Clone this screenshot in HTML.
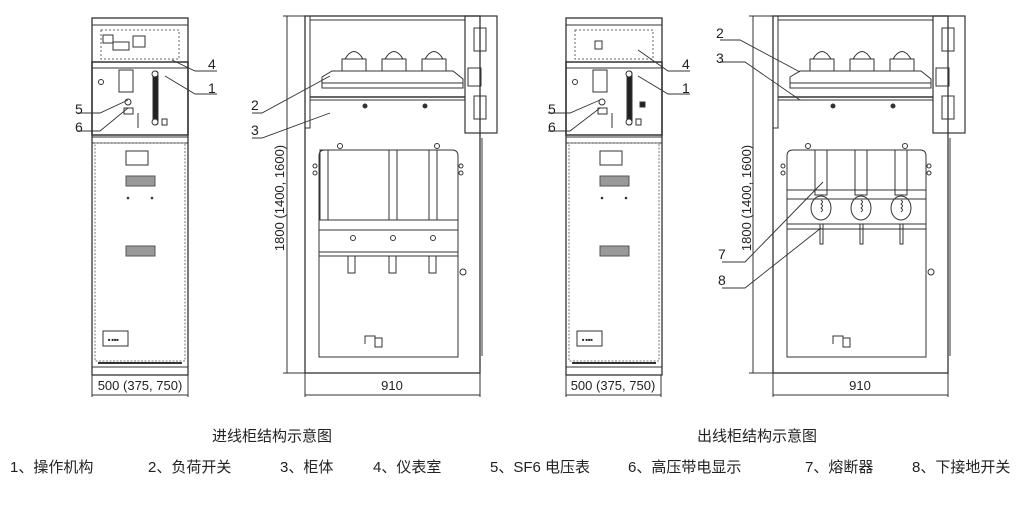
<!DOCTYPE html>
<html><head><meta charset="utf-8"><style>
html,body{margin:0;padding:0;background:#fff;width:1024px;height:510px;overflow:hidden}
svg{display:block}
text{font-family:"Liberation Sans","Noto Sans CJK SC",sans-serif;fill:#222}
</style></head><body>
<svg width="1024" height="510" viewBox="0 0 1024 510" xmlns="http://www.w3.org/2000/svg">
<defs>
<g id="front" fill="none" stroke="#333" stroke-width="1">
  <rect x="0" y="0" width="96" height="357" stroke-width="1.3"/>
  <line x1="0" y1="7" x2="96" y2="7"/>
  <rect x="9" y="12" width="78" height="29" stroke-dasharray="2,2" stroke="#666"/>
  <rect x="0" y="44" width="96" height="73" stroke-width="1.5"/>
  <line x1="0" y1="50" x2="96" y2="50"/>
  <rect x="27" y="52" width="14" height="22"/>
  <circle cx="9" cy="64" r="2.5"/>
  <rect x="61" y="53" width="5" height="54" rx="2.5" fill="#222"/>
  <circle cx="63" cy="56" r="3" fill="#fff"/>
  <circle cx="63" cy="104" r="3" fill="#fff"/>
  <circle cx="36" cy="84" r="3"/>
  <rect x="32" y="90" width="9" height="6"/>
  <line x1="46" y1="95" x2="46" y2="110"/>
  <rect x="70" y="101" width="5" height="6"/>
  <rect x="0" y="119" width="96" height="6"/>
  <rect x="3" y="125" width="90" height="218" stroke-dasharray="2,1.5" stroke="#777"/>
  <rect x="34" y="133" width="22" height="14"/>
  <rect x="34" y="158" width="29" height="10" fill="#999" stroke="#555"/>
  <rect x="34" y="228" width="29" height="10" fill="#999" stroke="#555"/>
  <circle cx="36" cy="180" r="0.8" fill="#333"/><circle cx="60" cy="180" r="0.8" fill="#333"/>
  <rect x="11" y="313" width="25" height="15"/>
  <text x="16" y="323" font-size="4" stroke="none">■ ■■■</text>
  <line x1="6" y1="345" x2="90" y2="345" stroke-width="2"/>
  <line x1="0" y1="349" x2="96" y2="349"/>
</g>
<g id="side" fill="none" stroke="#333" stroke-width="1">
  <rect x="0" y="0" width="175" height="357" stroke-width="1.3"/>
  <line x1="5" y1="4" x2="160" y2="4"/>
  <rect x="0" y="0" width="5" height="112"/>
  <line x1="5" y1="81" x2="160" y2="81" stroke-width="1.4"/>
  <line x1="5" y1="84" x2="160" y2="84"/>
  <rect x="160" y="0" width="32" height="117" stroke-width="1.2"/>
  <rect x="163" y="52" width="13" height="18"/>
  <rect x="169" y="12" width="12" height="23"/>
  <rect x="169" y="80" width="12" height="23"/>
  <path d="M17 61 L27 55 L148 55 L158 63 L158 72 L17 72 Z"/>
  <line x1="17" y1="67" x2="158" y2="67"/>
  <g>
    <rect x="37" y="43" width="24" height="12"/><path d="M40 43 Q49 28 58 43"/>
    <rect x="77" y="43" width="24" height="12"/><path d="M80 43 Q89 28 98 43"/>
    <rect x="117" y="43" width="24" height="12"/><path d="M120 43 Q129 28 138 43"/>
  </g>
  <circle cx="60" cy="90" r="2" fill="#333"/><circle cx="120" cy="90" r="2" fill="#333"/>
  <line x1="177" y1="122" x2="177" y2="340"/>
  <path d="M14 140 Q14 134 20 134 L147 134 Q153 134 153 140 L153 341 L14 341 Z"/>
  <circle cx="35" cy="130" r="2.5"/><circle cx="132" cy="130" r="2.5"/>
  <circle cx="10" cy="150" r="2"/><circle cx="10" cy="157" r="2"/>
  <circle cx="156" cy="150" r="2"/><circle cx="156" cy="157" r="2"/>
  <circle cx="158" cy="256" r="3"/>
  <path d="M60 328 L60 320 L70 320 L70 331 L77 331 L77 322 L70 322"/>
</g>
</defs>

<use href="#front" x="92" y="18"/>
<g fill="none" stroke="#333" stroke-width="1">
  <rect x="103" y="35" width="10" height="8"/>
  <rect x="113" y="42" width="16" height="8"/>
  <rect x="133" y="36" width="12" height="11"/>
  <line x1="92" y1="375" x2="92" y2="397"/><line x1="188" y1="375" x2="188" y2="397"/>
  <line x1="92" y1="395" x2="188" y2="395"/>
</g>
<use href="#side" x="305" y="16"/>
<g fill="none" stroke="#333" stroke-width="1">
  <rect x="320" y="150" width="8" height="70"/><rect x="389" y="150" width="8" height="70"/><rect x="429" y="150" width="8" height="70"/>
  <rect x="319" y="220" width="139" height="10"/><line x1="319" y1="252" x2="458" y2="252"/><line x1="319" y1="256" x2="458" y2="256"/>
  <circle cx="353" cy="238" r="2.5"/><circle cx="393" cy="238" r="2.5"/><circle cx="433" cy="238" r="2.5"/>
  <rect x="348" y="256" width="7" height="17"/><rect x="389" y="256" width="7" height="17"/><rect x="429" y="256" width="7" height="17"/>
  <line x1="287" y1="16" x2="287" y2="373"/><line x1="283" y1="16" x2="305" y2="16"/><line x1="283" y1="373" x2="305" y2="373"/>
  <line x1="305" y1="373" x2="305" y2="397"/><line x1="480" y1="373" x2="480" y2="397"/>
  <line x1="305" y1="395" x2="480" y2="395"/>
</g>
<g stroke="#333" stroke-width="0.9" fill="none">
  <polyline points="172,60 195,71 217,71"/>
  <polyline points="165,76 195,94 217,94"/>
  <polyline points="128,100 100,113 78,113"/>
  <polyline points="128,108 100,131 78,131"/>
  <polyline points="330,76 262,113 252,113"/>
  <polyline points="330,113 262,138 252,138"/>
</g>
<g font-size="14">
  <text x="208" y="69">4</text><text x="208" y="93">1</text>
  <text x="75" y="114">5</text><text x="75" y="132">6</text>
  <text x="251" y="110">2</text><text x="251" y="135">3</text>
</g>
<text x="140" y="390" font-size="13" text-anchor="middle">500 (375, 750)</text>
<text x="392" y="390" font-size="13" text-anchor="middle">910</text>
<text transform="translate(284,198) rotate(-90)" font-size="13" text-anchor="middle">1800 (1400, 1600)</text>

<use href="#front" x="566" y="18"/>
<g fill="none" stroke="#333" stroke-width="1">
  <rect x="595" y="41" width="7" height="8"/>
  <rect x="640" y="102" width="5" height="5" fill="#222"/>
  <line x1="566" y1="375" x2="566" y2="397"/><line x1="661" y1="375" x2="661" y2="397"/>
  <line x1="566" y1="395" x2="661" y2="395"/>
</g>
<use href="#side" x="773" y="16"/>
<g fill="none" stroke="#333" stroke-width="1">
  <rect x="815" y="150" width="12" height="45"/><rect x="855" y="150" width="12" height="45"/><rect x="895" y="150" width="12" height="45"/>
  <line x1="787" y1="190" x2="926" y2="190"/><line x1="787" y1="199" x2="926" y2="199"/>
  <ellipse cx="821" cy="208" rx="10" ry="12"/><ellipse cx="861" cy="208" rx="10" ry="12"/><ellipse cx="901" cy="208" rx="10" ry="12"/>
  <path d="M821 200 q3 2 0 4 q3 2 0 4 q3 2 0 4"/><path d="M861 200 q3 2 0 4 q3 2 0 4 q3 2 0 4"/><path d="M901 200 q3 2 0 4 q3 2 0 4 q3 2 0 4"/>
  <line x1="787" y1="224" x2="926" y2="224"/><line x1="787" y1="229" x2="926" y2="229"/>
  <rect x="820" y="224" width="3" height="20"/><rect x="860" y="224" width="3" height="20"/><rect x="900" y="224" width="3" height="20"/>
  <line x1="753" y1="16" x2="753" y2="373"/><line x1="749" y1="16" x2="773" y2="16"/><line x1="749" y1="373" x2="773" y2="373"/>
  <line x1="773" y1="373" x2="773" y2="397"/><line x1="948" y1="373" x2="948" y2="397"/>
  <line x1="773" y1="395" x2="948" y2="395"/>
</g>
<g stroke="#333" stroke-width="0.9" fill="none">
  <polyline points="638,50 668,71 690,71"/>
  <polyline points="638,76 668,94 690,94"/>
  <polyline points="600,100 570,113 548,113"/>
  <polyline points="600,108 570,131 548,131"/>
  <polyline points="800,72 740,40 720,40"/>
  <polyline points="800,100 745,62 720,62"/>
  <polyline points="823,182 745,262 722,262"/>
  <polyline points="821,228 745,288 722,288"/>
</g>
<g font-size="14">
  <text x="682" y="69">4</text><text x="682" y="93">1</text>
  <text x="548" y="114">5</text><text x="548" y="132">6</text>
  <text x="716" y="38">2</text><text x="716" y="63">3</text>
  <text x="718" y="259">7</text><text x="718" y="285">8</text>
</g>
<text x="613" y="390" font-size="13" text-anchor="middle">500 (375, 750)</text>
<text x="860" y="390" font-size="13" text-anchor="middle">910</text>
<text transform="translate(751,198) rotate(-90)" font-size="13" text-anchor="middle">1800 (1400, 1600)</text>

<g font-size="15">
  <text x="272" y="441" text-anchor="middle">进线柜结构示意图</text>
  <text x="757" y="441" text-anchor="middle">出线柜结构示意图</text>
</g>
<g font-size="15">
  <text x="10" y="472">1、操作机构</text>
  <text x="148" y="472">2、负荷开关</text>
  <text x="280" y="472">3、柜体</text>
  <text x="373" y="472">4、仪表室</text>
  <text x="490" y="472">5、SF6 电压表</text>
  <text x="628" y="472">6、高压带电显示</text>
  <text x="805" y="472">7、熔断器</text>
  <text x="912" y="472">8、下接地开关</text>
</g>
</svg>
</body></html>
